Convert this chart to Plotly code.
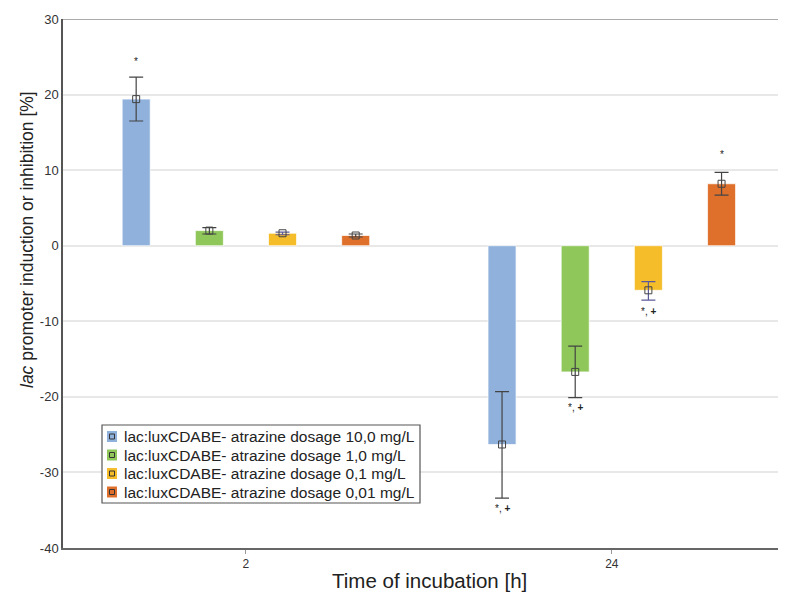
import plotly.graph_objects as go

times = ["2", "24"]
series_names = [
    "lac:luxCDABE- atrazine dosage 10,0 mg/L",
    "lac:luxCDABE- atrazine dosage 1,0 mg/L",
    "lac:luxCDABE- atrazine dosage 0,1 mg/L",
    "lac:luxCDABE- atrazine dosage 0,01 mg/L",
]
colors = ["#8fb1dc", "#8fc75a", "#f6bd2b", "#df702c"]
err_colors = ["#444444", "#444444", "#5a5a9a", "#444444"]

# values per series: [2 h, 24 h]
val_10 = [19.4, -26.3]
val_1 = [2.0, -16.7]
val_01 = [1.65, -5.9]
val_001 = [1.35, 8.2]
# error bar upper / lower ends
up_10 = [22.3, -19.3]
lo_10 = [16.5, -33.4]
up_1 = [2.4, -13.3]
lo_1 = [1.55, -20.1]
up_01 = [1.8, -4.75]
lo_01 = [1.45, -7.2]
up_001 = [1.55, 9.7]
lo_001 = [1.15, 6.7]

y_ticks = [-40, -30, -20, -10, 0, 10, 20, 30]
y_tick_labels = ["-40", "-30", "-20", "-10", "0", "10", "20", "30"]

values = [val_10, val_1, val_01, val_001]
uppers = [up_10, up_1, up_01, up_001]
lowers = [lo_10, lo_1, lo_01, lo_001]

# significance labels: (series index, time index, text, y)
sig_labels = [
    (0, 0, "*", 24.4),
    (3, 1, "*", 12.1),
    (0, 1, "*, <b>+</b>", -34.8),
    (1, 1, "*, <b>+</b>", -21.4),
    (2, 1, "*, <b>+</b>", -8.7),
]

# page body has an 8px margin; work in window pixels and shift
OFF = 8
W, H = 786, 599 - OFF
L, R, T, B = 63 - OFF, 786, 19 - OFF, 548 - OFF
def px(x):
    return (x - OFF - L) / (R - L)
def py(y):
    return (B - (y - OFF)) / (B - T)

n = len(series_names)
slot = 0.8 / n
offsets = [(j - (n - 1) / 2) * slot for j in range(n)]
bar_w = 0.0766

fig = go.Figure()
for j in range(n):
    xs = [i + offsets[j] for i in range(len(times))]
    v = values[j]
    fig.add_trace(go.Bar(
        x=xs, y=v, width=bar_w, name=series_names[j], showlegend=False,
        marker=dict(color=colors[j], line=dict(color="rgba(255,255,255,0.7)", width=1)),
        error_y=dict(type="data", symmetric=False,
                     array=[u - a for u, a in zip(uppers[j], v)],
                     arrayminus=[a - l for l, a in zip(lowers[j], v)],
                     color=err_colors[j], thickness=1.2, width=7),
    ))
for j in range(n):
    xs = [i + offsets[j] for i in range(len(times))]
    fig.add_trace(go.Scatter(
        x=xs, y=values[j], mode="markers", showlegend=False, hoverinfo="skip",
        marker=dict(symbol="square-open", size=7, color="#444444", line=dict(width=1)),
    ))

for (j, i, txt, yv) in sig_labels:
    fig.add_annotation(x=i + offsets[j], y=yv, text=txt, showarrow=False,
                       font=dict(size=10, color="#222222", family="Liberation Sans, Arial"))

# top frame line at 30
fig.add_shape(type="line", xref="paper", yref="y", x0=0, x1=1, y0=30, y1=30,
              line=dict(color="#aaaaaa", width=2))

# legend box
fig.add_shape(type="rect", xref="paper", yref="paper",
              x0=px(102), x1=px(420), y0=py(503), y1=py(425),
              line=dict(color="#555555", width=1.2), fillcolor="white", layer="above")
row_y = [436.5, 455, 473.5, 492]
for j in range(n):
    yc = row_y[j]
    fig.add_shape(type="rect", xref="paper", yref="paper",
                  x0=px(107), x1=px(117), y0=py(yc + 5.5), y1=py(yc - 5.5),
                  line=dict(color=colors[j], width=0), fillcolor=colors[j], layer="above")
    fig.add_shape(type="rect", xref="paper", yref="paper",
                  x0=px(109.5), x1=px(114.5), y0=py(yc + 2.5), y1=py(yc - 2.5),
                  line=dict(color="#333333", width=1), fillcolor="rgba(0,0,0,0)", layer="above")
    fig.add_annotation(xref="paper", yref="paper", x=px(122), y=py(yc), text=series_names[j],
                       showarrow=False, xanchor="left", yanchor="middle",
                       font=dict(size=15.5, color="#222222", family="Liberation Sans, Arial"))

# axis titles
fig.add_annotation(xref="paper", yref="paper", x=px(429), y=py(580), text="Time of incubation [h]",
                   showarrow=False, xanchor="center", yanchor="middle",
                   font=dict(size=20.5, color="#222222", family="Liberation Sans, Arial"))
fig.add_annotation(xref="paper", yref="paper", x=px(27), y=py(240),
                   text="<i>lac</i> promoter induction or inhibition [%]", textangle=-90,
                   showarrow=False, xanchor="center", yanchor="middle",
                   font=dict(size=17.5, color="#222222", family="Liberation Sans, Arial"))

fig.update_layout(
    width=W, height=H,
    margin=dict(l=L, r=W - R, t=T, b=H - B),
    paper_bgcolor="white", plot_bgcolor="white",
    font=dict(family="Liberation Sans, Arial", color="#333333"),
    showlegend=False,
    xaxis=dict(range=[-0.5, 1.498], tickmode="array", tickvals=[0, 1], ticktext=times,
               showgrid=False, zeroline=False, showline=True, linecolor="#666666", linewidth=1.5,
               ticks="outside", ticklen=4, tickcolor="#999999", automargin=False,
               tickfont=dict(size=12, color="#333333")),
    yaxis=dict(range=[-40, 30], tickmode="array", tickvals=y_ticks, ticktext=y_tick_labels,
               showgrid=True, gridcolor="#e8e8e8", gridwidth=1.5,
               zeroline=False, showline=True, linecolor="#555555", linewidth=1.5, automargin=False,
               tickfont=dict(size=13, color="#333333")),
)

fig.write_html("out.html")
